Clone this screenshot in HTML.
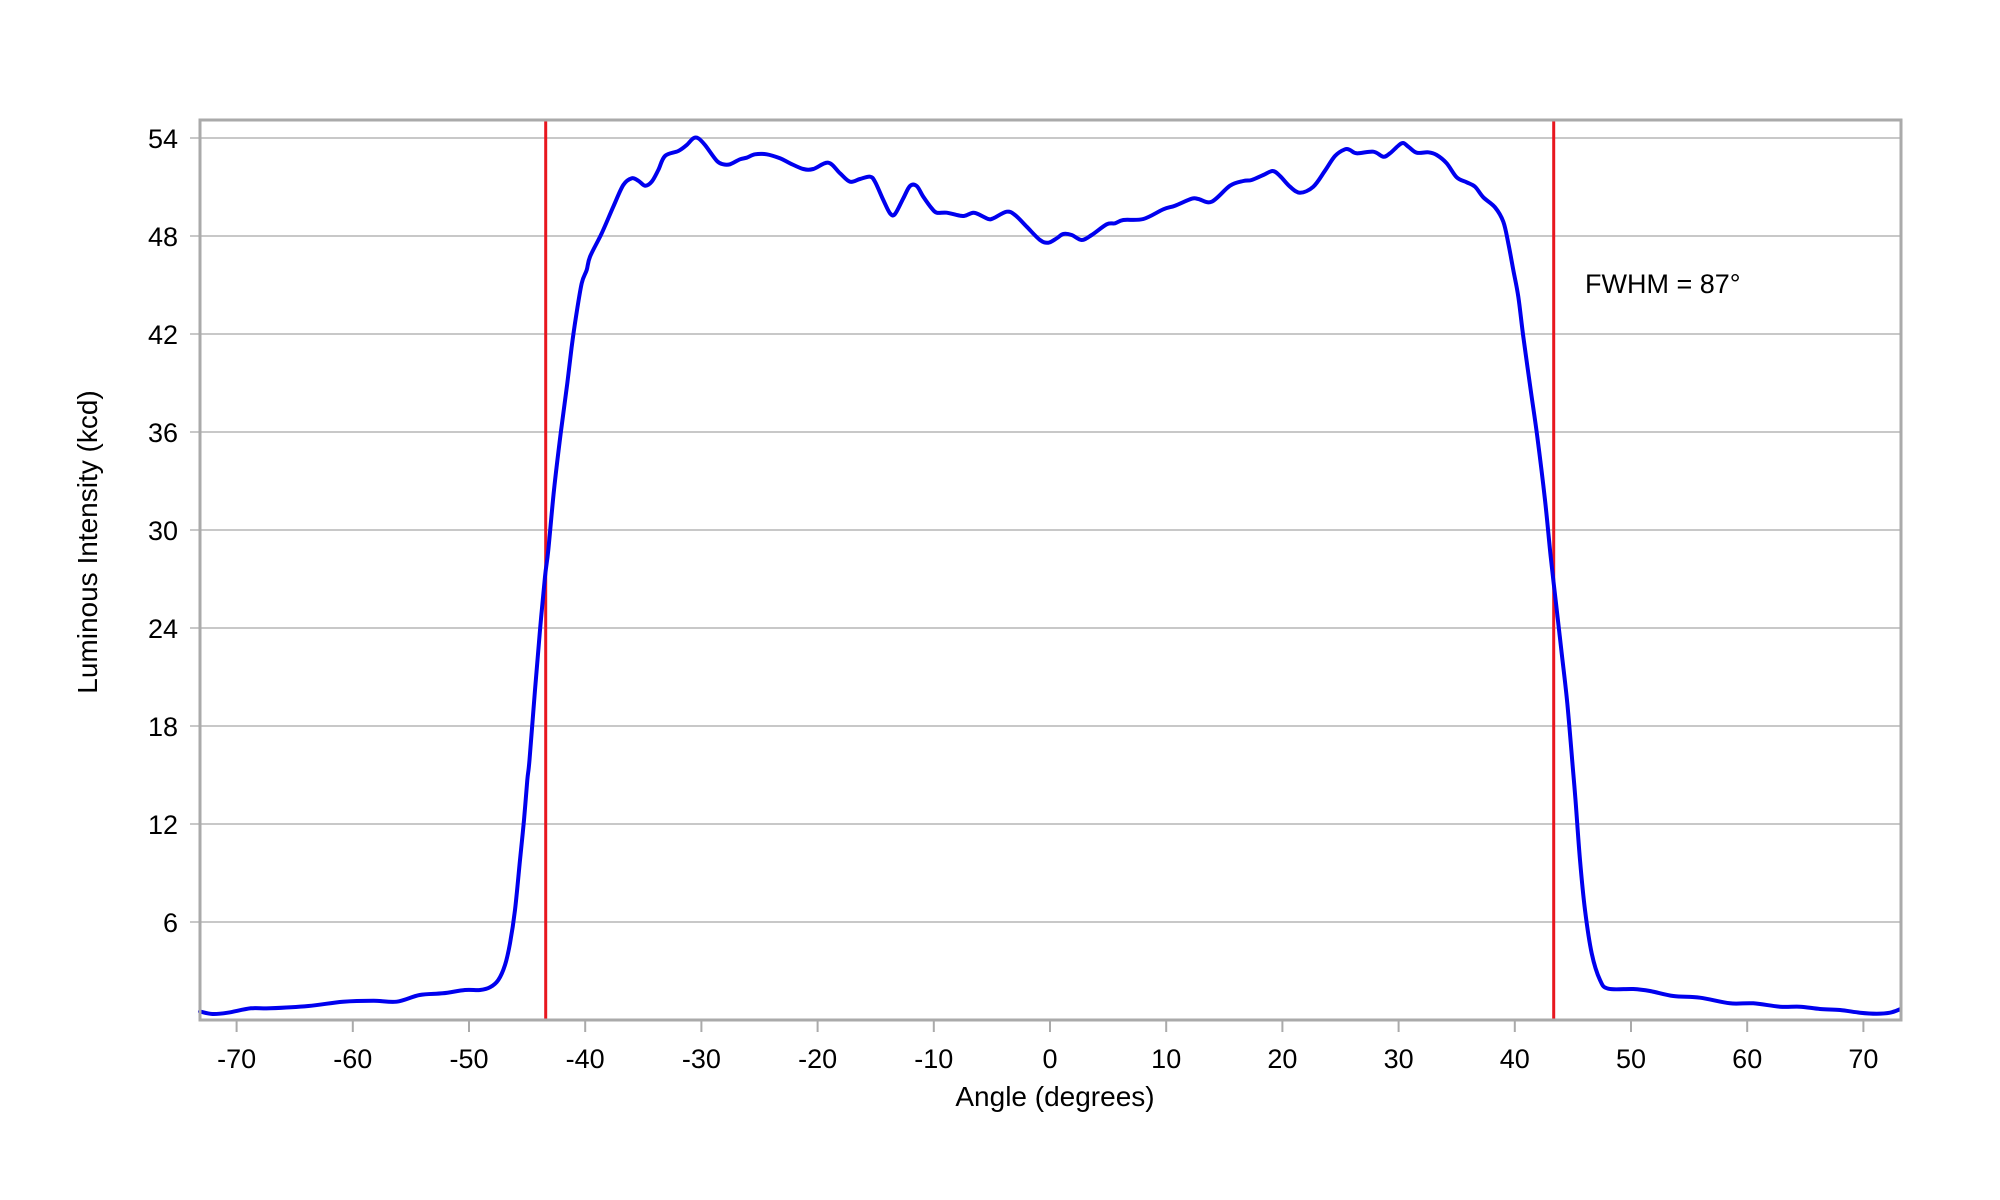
<!DOCTYPE html>
<html>
<head>
<meta charset="utf-8">
<style>
  html, body { margin: 0; padding: 0; background: #ffffff; }
  svg { display: block; }
  text { font-family: "Liberation Sans", Arial, sans-serif; fill: #000; }
</style>
</head>
<body>
<svg id="chart" width="2000" height="1200" viewBox="0 0 2000 1200" xmlns="http://www.w3.org/2000/svg">
  <rect x="0" y="0" width="2000" height="1200" fill="#ffffff"/>

  <!-- gridlines + y ticks -->
  <g stroke="#b5b5b5" stroke-width="1.6">
    <line x1="190" y1="138" x2="1901" y2="138"/>
    <line x1="190" y1="236" x2="1901" y2="236"/>
    <line x1="190" y1="334" x2="1901" y2="334"/>
    <line x1="190" y1="432" x2="1901" y2="432"/>
    <line x1="190" y1="530" x2="1901" y2="530"/>
    <line x1="190" y1="628" x2="1901" y2="628"/>
    <line x1="190" y1="726" x2="1901" y2="726"/>
    <line x1="190" y1="824" x2="1901" y2="824"/>
    <line x1="190" y1="922" x2="1901" y2="922"/>
  </g>

  <!-- x ticks -->
  <g stroke="#aaaaaa" stroke-width="2">
    <line x1="236.6" y1="1020" x2="236.6" y2="1032"/>
    <line x1="352.8" y1="1020" x2="352.8" y2="1032"/>
    <line x1="469" y1="1020" x2="469" y2="1032"/>
    <line x1="585.2" y1="1020" x2="585.2" y2="1032"/>
    <line x1="701.4" y1="1020" x2="701.4" y2="1032"/>
    <line x1="817.6" y1="1020" x2="817.6" y2="1032"/>
    <line x1="933.8" y1="1020" x2="933.8" y2="1032"/>
    <line x1="1050" y1="1020" x2="1050" y2="1032"/>
    <line x1="1166.2" y1="1020" x2="1166.2" y2="1032"/>
    <line x1="1282.4" y1="1020" x2="1282.4" y2="1032"/>
    <line x1="1398.6" y1="1020" x2="1398.6" y2="1032"/>
    <line x1="1514.8" y1="1020" x2="1514.8" y2="1032"/>
    <line x1="1631" y1="1020" x2="1631" y2="1032"/>
    <line x1="1747.2" y1="1020" x2="1747.2" y2="1032"/>
    <line x1="1863.4" y1="1020" x2="1863.4" y2="1032"/>
  </g>

  <!-- red FWHM lines -->
  <g stroke="#e8171f" stroke-width="3">
    <line x1="545.7" y1="120" x2="545.7" y2="1020"/>
    <line x1="1553.7" y1="120" x2="1553.7" y2="1020"/>
  </g>

  <!-- data curve -->
  <polyline id="curve" fill="none" stroke="#0000ee" stroke-width="4" stroke-linejoin="round" stroke-linecap="round"
    points="200,1011.5 212.5,1014 227.8,1012.7 250.9,1008.3 270,1008.3 308.4,1006 343,1001.7 373.7,1000.7 396.7,1001.7 419.7,995 442.8,993.3 465,990 480,990 490,987.3 498.3,980 505,965 510,943.3 515,910 520,860 524,820 527.3,780 529.5,760 535,690 540,630 545,576.7 548.3,550 554,490 560.7,433.3 567.3,383.3 571.7,346.7 576,316.7 581.7,283.3 586.7,270 590,256.7 601.7,233.3 613.3,206.7 623.3,185 631.7,178.3 638.3,180.7 645,185.7 651.7,181.7 658.3,170 665,156 678.3,151 686.7,145 693.3,138.3 698.3,138.3 705,145 716.7,160.7 723.3,164.3 730,164.3 740,159.3 746.7,157.7 755,154.3 766.7,154.3 780,158.3 790,163.3 803.3,169 813.3,169 828.3,162.7 840,173.3 850,181.7 860,179 870,176.7 875,181.7 883.3,200 890,213.3 895,214 903.3,198.3 910,186 916.7,186 923.3,196.7 931.7,208.3 936.7,212.7 946.7,212.7 960,215.7 965,215.7 973.3,212.7 980,215 988.3,219 993.3,218.3 1006.7,211.7 1015,215 1026.7,226.7 1040,240 1048.3,242.7 1056.7,238.3 1063.3,234 1071.7,235 1081.7,240 1091.7,235 1106.7,224.3 1115,223.3 1123.3,220 1143.3,219 1163.3,209.3 1175,205.7 1191.7,198.7 1198.3,199 1211.7,201.7 1230,185.7 1243.3,181 1251.7,180 1263.3,175 1272.7,171 1280,176 1290,186.7 1300,192.7 1313.3,186.7 1325,170.7 1335,156 1345,149.3 1350,150 1356.7,153.3 1373.3,151.7 1383.3,156.7 1390,153.3 1401.7,143.3 1408.3,146.7 1416.7,152.7 1428.3,152.3 1436.7,155 1446.7,163.3 1456.7,177.3 1466.7,182.3 1475,186.7 1483.3,197.3 1495,207.3 1503.3,221.7 1508.3,243.3 1513.3,270 1518.3,296.7 1523.3,336.7 1530.7,390 1537.3,436.7 1545,500 1550.7,556.7 1556,603.3 1561.7,653.3 1567.3,703.3 1573,770 1575.5,800 1580,860 1585,910 1591.7,953.3 1600,980 1608.3,988.7 1633.3,989 1650,991 1673.3,996 1700,997.7 1730,1003.3 1753.3,1003.3 1780,1006.7 1800,1006.7 1820,1009 1840,1010 1860,1012.7 1876.7,1013.7 1890,1012.7 1900,1009.3"/>

  <!-- frame -->
  <rect x="200" y="120" width="1701" height="900" fill="none" stroke="#aaaaaa" stroke-width="3"/>

  <!-- y tick labels -->
  <g font-size="27" text-anchor="end">
    <text x="178" y="148">54</text>
    <text x="178" y="246">48</text>
    <text x="178" y="344">42</text>
    <text x="178" y="442">36</text>
    <text x="178" y="540">30</text>
    <text x="178" y="638">24</text>
    <text x="178" y="736">18</text>
    <text x="178" y="834">12</text>
    <text x="178" y="932">6</text>
  </g>

  <!-- x tick labels -->
  <g font-size="27" text-anchor="middle">
    <text x="236.6" y="1068">-70</text>
    <text x="352.8" y="1068">-60</text>
    <text x="469" y="1068">-50</text>
    <text x="585.2" y="1068">-40</text>
    <text x="701.4" y="1068">-30</text>
    <text x="817.6" y="1068">-20</text>
    <text x="933.8" y="1068">-10</text>
    <text x="1050" y="1068">0</text>
    <text x="1166.2" y="1068">10</text>
    <text x="1282.4" y="1068">20</text>
    <text x="1398.6" y="1068">30</text>
    <text x="1514.8" y="1068">40</text>
    <text x="1631" y="1068">50</text>
    <text x="1747.2" y="1068">60</text>
    <text x="1863.4" y="1068">70</text>
  </g>

  <!-- axis titles -->
  <text x="1055" y="1106" font-size="28" text-anchor="middle">Angle (degrees)</text>
  <text x="0" y="0" font-size="28" text-anchor="middle" transform="translate(97,542) rotate(-90)">Luminous Intensity (kcd)</text>

  <!-- annotation -->
  <text x="1585" y="293" font-size="27">FWHM = 87°</text>
</svg>
<script>
(function(){
  try {
    var pl = document.getElementById('curve');
    var raw = pl.getAttribute('points').trim().split(/\s+/);
    var p = raw.map(function(s){ var a = s.split(','); return [parseFloat(a[0]), parseFloat(a[1])]; });
    var n = p.length;
    var d = 'M' + p[0][0] + ',' + p[0][1];
    var t = 1/6;
    for (var i = 0; i < n - 1; i++) {
      var p0 = p[i > 0 ? i - 1 : 0], p1 = p[i], p2 = p[i + 1], p3 = p[i + 2 < n ? i + 2 : n - 1];
      var c1x = p1[0] + (p2[0] - p0[0]) * t, c1y = p1[1] + (p2[1] - p0[1]) * t;
      var c2x = p2[0] - (p3[0] - p1[0]) * t, c2y = p2[1] - (p3[1] - p1[1]) * t;
      d += ' C' + c1x.toFixed(2) + ',' + c1y.toFixed(2) + ' ' + c2x.toFixed(2) + ',' + c2y.toFixed(2) + ' ' + p2[0] + ',' + p2[1];
    }
    var path = document.createElementNS('http://www.w3.org/2000/svg', 'path');
    path.setAttribute('d', d);
    path.setAttribute('fill', 'none');
    path.setAttribute('stroke', '#0000ee');
    path.setAttribute('stroke-width', '4');
    path.setAttribute('stroke-linejoin', 'round');
    path.setAttribute('stroke-linecap', 'round');
    pl.parentNode.replaceChild(path, pl);
  } catch (e) {}
})();
</script>
</body>
</html>
